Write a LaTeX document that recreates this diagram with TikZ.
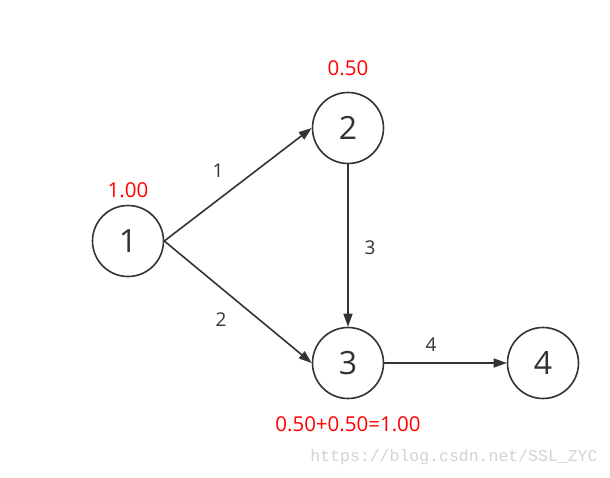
\documentclass[tikz,border=0pt]{standalone}
\usepackage{fontspec}
\setmainfont{Open Sans}
\newfontfamily\wmfont{Liberation Mono}
\usetikzlibrary{arrows.meta}
\definecolor{ink}{RGB}{51,51,51}
\definecolor{wm}{RGB}{214,210,205}
\begin{document}
\begin{tikzpicture}[x=1pt,y=-1pt,
  vert/.style={circle,draw=ink,line width=1.6pt,minimum size=71pt,inner sep=0pt,text=ink,font=\fontsize{32}{32}\selectfont},
  edge/.style={draw=ink,line width=1.6pt,-{Triangle[length=13pt,width=9pt]}},
  elab/.style={text=ink,font=\fontsize{19}{19}\selectfont,inner sep=0pt},
  rlab/.style={text=red,font=\fontsize{20.5}{20.5}\selectfont,inner sep=0pt}]
\useasboundingbox (0,0) rectangle (610,477);
\fill[white] (0,0) rectangle (610,477);
\node[vert] (n1) at (128,241) {1};
\node[vert] (n2) at (348,128) {2};
\node[vert] (n3) at (348,363) {3};
\node[vert] (n4) at (543,363) {4};
\draw[edge] (n1.east) -- (n2.west);
\draw[edge] (n1.east) -- (n3.west);
\draw[edge] (n2.south) -- (n3.north);
\draw[edge] (n3.east) -- (n4.west);
\node[elab] (l1) at (218,171) {1};
\node[elab] (l2) at (221,320) {2};
\node[elab] (l3) at (370,248) {3};
\node[elab] (l4) at (431,345) {4};
\node[rlab] (r1) at (128,190) {1.00};
\node[rlab] (r2) at (348,68) {0.50};
\node[rlab] (r3) at (348,424) {0.50+0.50=1.00};
\node[text=wm,font=\wmfont\fontsize{16.5}{16.5}\selectfont,inner sep=0pt] (wmk) at (454,457) {https://blog.csdn.net/SSL\_ZYC};
\end{tikzpicture}
\end{document}
